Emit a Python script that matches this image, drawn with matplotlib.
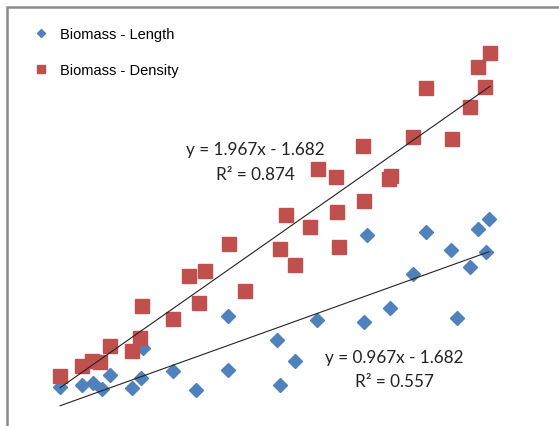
import matplotlib
matplotlib.use("Agg")
import matplotlib.pyplot as plt
import numpy as np
from matplotlib.patches import Rectangle

# biomass vs length
len_x = [0.61, 1.09, 1.33, 1.52, 1.70, 2.17, 2.37, 2.41, 3.07, 3.57, 4.26, 4.26, 5.33, 5.39,
         5.72, 6.20, 7.22, 7.28, 7.78, 8.28, 8.57, 9.11, 9.24, 9.52, 9.70, 9.87, 9.93]
len_y = [-0.34, -0.22, -0.10, -0.46, 0.39, -0.40, 0.21, 2.04, 0.64, -0.52, 3.99, 0.70, 2.53, -0.22,
         1.24, 3.74, 3.62, 8.93, 4.48, 6.55, 9.11, 8.01, 3.87, 6.98, 9.29, 7.89, 9.90]

# biomass vs density
den_x = [0.61, 1.09, 1.30, 1.48, 1.70, 2.17, 2.35, 2.39, 3.07, 3.41, 3.63, 3.76, 4.28, 4.63,
         5.39, 5.52, 5.72, 6.04, 6.22, 6.61, 6.63, 6.67, 7.20, 7.22, 7.76, 7.80, 8.28, 8.57,
         9.13, 9.52, 9.70, 9.85, 9.96]
den_y = [0.33, 0.94, 1.24, 1.18, 2.16, 1.85, 2.65, 4.60, 3.81, 6.43, 4.78, 6.73, 8.38, 5.51,
         8.07, 10.15, 7.10, 9.42, 12.95, 12.46, 10.33, 8.20, 14.35, 11.00, 12.34, 12.53, 14.90, 17.89,
         14.78, 16.73, 19.17, 17.95, 20.03]

blue = "#4F81BD"
red = "#C0504D"

fig = plt.figure(figsize=(5.59, 4.27), dpi=100)
ax = fig.add_axes([0, 0, 1, 1])

ax.plot(len_x, len_y, linestyle="none", marker="D", markersize=6.8, color=blue,
        label="Biomass - Length")
ax.plot(den_x, den_y, linestyle="none", marker="s", markersize=10.5, color=red,
        label="Biomass - Density")

# linear trendlines
for xs, ys in [(len_x, len_y), (den_x, den_y)]:
    k, b = np.polyfit(xs, ys, 1)
    xx = np.array([min(xs), max(xs)])
    ax.plot(xx, k * xx + b, color="#222222", linewidth=0.8)

eq_font = dict(ha="center", va="center", fontsize=12.3, family="Lato", color="#222222")
ax.text(4.85, 14.15, "y = 1.967x - 1.682", **eq_font)
ax.text(4.85, 12.65, "R² = 0.874", **eq_font)
ax.text(7.87, 1.5, "y = 0.967x - 1.682", **eq_font)
ax.text(7.87, 0.0, "R² = 0.557", **eq_font)

ax.legend(loc="upper left", bbox_to_anchor=(0.037, 0.965), frameon=False,
          prop={"family": "Liberation Sans", "size": 10.5}, markerscale=0.55,
          handlelength=1.0, handletextpad=0.8, labelspacing=1.5, numpoints=1)

ax.set_xlim(-0.696, 11.457)
ax.set_ylim(-2.719, 23.318)
ax.axis("off")

fig.patches.append(Rectangle((6.5 / 559, -0.05), 1.0, 1 - 8 / 427 + 0.05,
                             transform=fig.transFigure, fill=False,
                             edgecolor="#8a8a8a", linewidth=1.8))

fig.savefig("out.png", dpi=100)
